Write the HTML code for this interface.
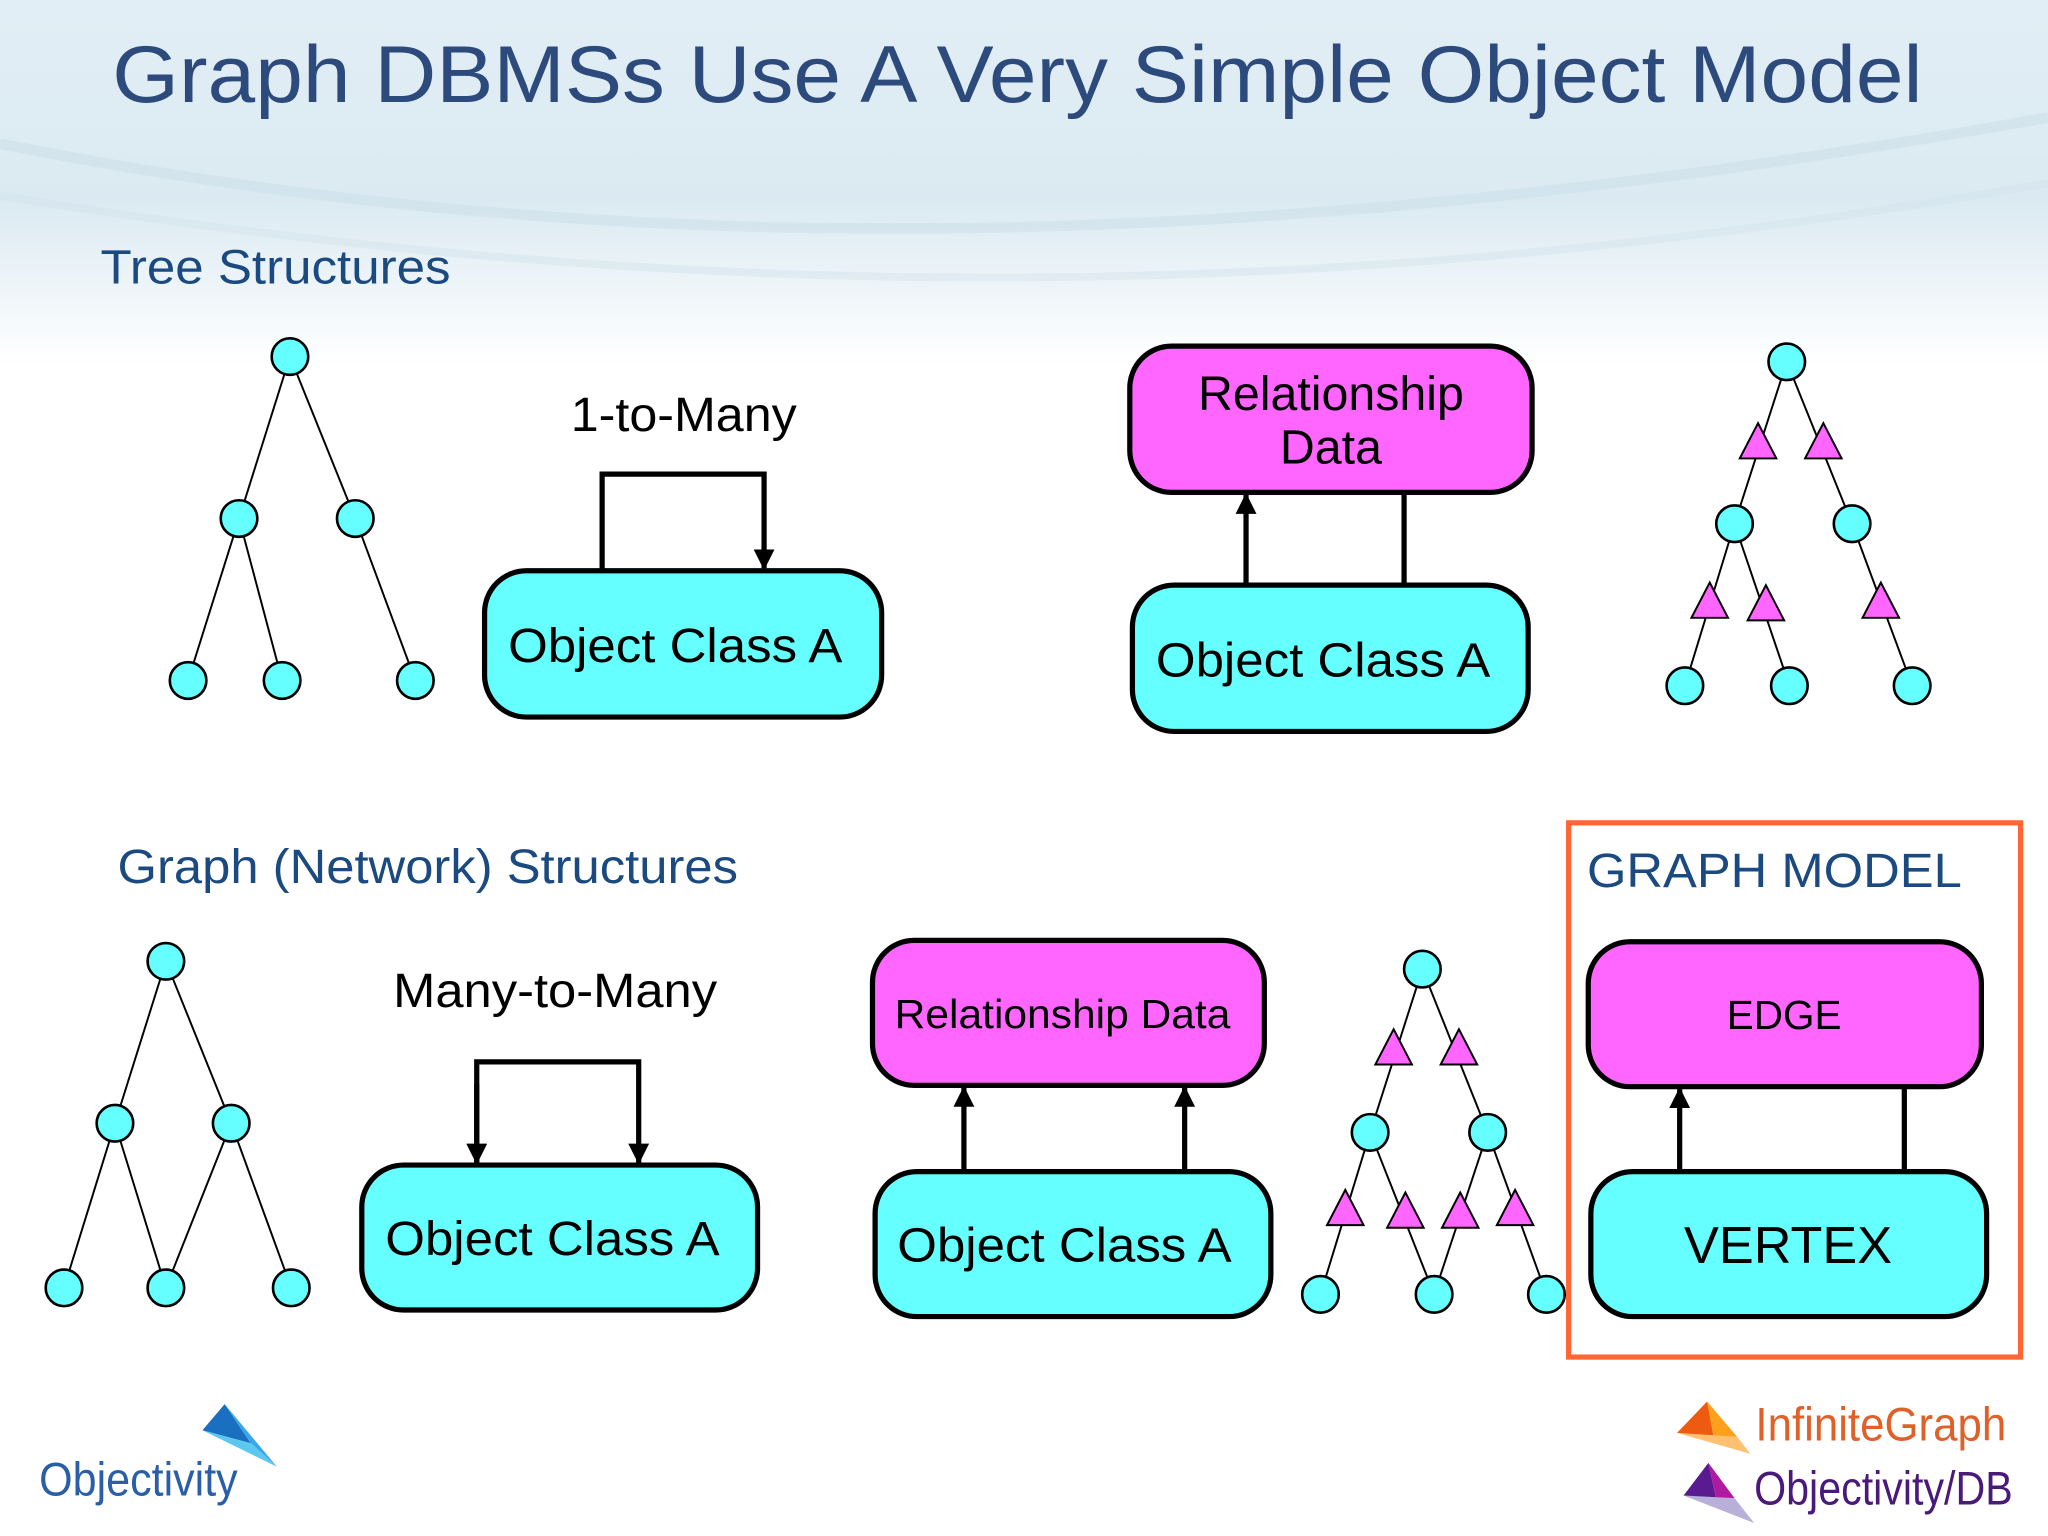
<!DOCTYPE html>
<html><head><meta charset="utf-8"><style>
html,body{margin:0;padding:0;background:#fff;}
svg{display:block;}
text{font-family:"Liberation Sans",sans-serif;}
</style></head><body>
<svg width="2048" height="1536" viewBox="0 0 1568 1176" xmlns="http://www.w3.org/2000/svg">
<defs>
<linearGradient id="bg" x1="0" y1="0" x2="0" y2="1">
<stop offset="0" stop-color="#e2eef5"/><stop offset="0.55" stop-color="#dbeaf2"/><stop offset="1" stop-color="#ffffff"/>
</linearGradient>
<marker id="ar" viewBox="0 0 10 10" refX="9" refY="5" markerWidth="4" markerHeight="4" orient="auto"><path d="M0,0 L10,5 L0,10 z" fill="#000"/></marker>
</defs>
<rect x="0" y="0" width="1568" height="280" fill="url(#bg)"/>
<path d="M0,110 C400,190 900,210 1568,90" stroke="#cadde8" stroke-width="8" fill="none" opacity="0.5"/>
<path d="M0,150 C500,230 1000,240 1568,140" stroke="#d3e4ec" stroke-width="6" fill="none" opacity="0.5"/>
<text x="86" y="78" font-size="62" fill="#2c4a7c" textLength="1386" lengthAdjust="spacingAndGlyphs">Graph DBMSs Use A Very Simple Object Model</text>
<text x="77" y="217" font-size="37" fill="#1a4a80" textLength="268" lengthAdjust="spacingAndGlyphs">Tree Structures</text>
<text x="90" y="676" font-size="37" fill="#1a4a80" textLength="475" lengthAdjust="spacingAndGlyphs">Graph (Network) Structures</text>

<g stroke="#000" stroke-width="1.5">
<line x1="222" y1="273" x2="183" y2="397"/><line x1="222" y1="273" x2="272" y2="397"/>
<line x1="183" y1="397" x2="144" y2="521"/><line x1="183" y1="397" x2="216" y2="521"/>
<line x1="272" y1="397" x2="318" y2="521"/>
</g>
<g fill="#66ffff" stroke="#000" stroke-width="2">
<circle cx="222" cy="273" r="14"/><circle cx="183" cy="397" r="14"/><circle cx="272" cy="397" r="14"/>
<circle cx="144" cy="521" r="14"/><circle cx="216" cy="521" r="14"/><circle cx="318" cy="521" r="14"/>
</g>

<text x="437" y="330" font-size="37" textLength="173" lengthAdjust="spacingAndGlyphs">1-to-Many</text>
<path d="M461,437 V363 H585 V435" stroke="#000" stroke-width="4" fill="none" marker-end="url(#ar)"/>
<rect x="371" y="437" width="304" height="112" rx="32" fill="#66ffff" stroke="#000" stroke-width="4"/>
<text x="389" y="507" font-size="37" textLength="256" lengthAdjust="spacingAndGlyphs">Object Class A</text>

<rect x="865" y="265" width="308" height="112" rx="32" fill="#ff66ff" stroke="#000" stroke-width="4"/>
<text x="1019" y="314" font-size="37" text-anchor="middle">Relationship</text>
<text x="1019" y="355" font-size="37" text-anchor="middle">Data</text>
<line x1="954" y1="448" x2="954" y2="379" stroke="#000" stroke-width="4" marker-end="url(#ar)"/>
<line x1="1075" y1="448" x2="1075" y2="377" stroke="#000" stroke-width="4"/>
<rect x="867" y="448" width="303" height="112" rx="32" fill="#66ffff" stroke="#000" stroke-width="4"/>
<text x="885" y="518" font-size="37" textLength="256" lengthAdjust="spacingAndGlyphs">Object Class A</text>

<g stroke="#000" stroke-width="1.5">
<line x1="1368" y1="277" x2="1328" y2="401"/><line x1="1368" y1="277" x2="1418" y2="401"/>
<line x1="1328" y1="401" x2="1290" y2="525"/><line x1="1328" y1="401" x2="1370" y2="525"/>
<line x1="1418" y1="401" x2="1464" y2="525"/>
</g>
<g fill="#ff66ff" stroke="#000" stroke-width="1.5">
<polygon points="1346,324 1332,351 1360,351"/><polygon points="1396,324 1382,351 1410,351"/>
<polygon points="1309,446 1295,473 1323,473"/><polygon points="1352,448 1338,475 1366,475"/>
<polygon points="1440,446 1426,473 1454,473"/>
</g>
<g fill="#66ffff" stroke="#000" stroke-width="2">
<circle cx="1368" cy="277" r="14"/><circle cx="1328" cy="401" r="14"/><circle cx="1418" cy="401" r="14"/>
<circle cx="1290" cy="525" r="14"/><circle cx="1370" cy="525" r="14"/><circle cx="1464" cy="525" r="14"/>
</g>

<g stroke="#000" stroke-width="1.5">
<line x1="127" y1="736" x2="88" y2="860"/><line x1="127" y1="736" x2="177" y2="860"/>
<line x1="88" y1="860" x2="49" y2="986"/><line x1="88" y1="860" x2="127" y2="986"/>
<line x1="177" y1="860" x2="127" y2="986"/><line x1="177" y1="860" x2="223" y2="986"/>
</g>
<g fill="#66ffff" stroke="#000" stroke-width="2">
<circle cx="127" cy="736" r="14"/><circle cx="88" cy="860" r="14"/><circle cx="177" cy="860" r="14"/>
<circle cx="49" cy="986" r="14"/><circle cx="127" cy="986" r="14"/><circle cx="223" cy="986" r="14"/>
</g>

<text x="301" y="771" font-size="37" textLength="248" lengthAdjust="spacingAndGlyphs">Many-to-Many</text>
<path d="M365,890 V813 H489 V890" stroke="#000" stroke-width="4" fill="none" marker-end="url(#ar)"/>
<line x1="365" y1="830" x2="365" y2="890" stroke="#000" stroke-width="4" marker-end="url(#ar)"/>
<rect x="277" y="892" width="303" height="111" rx="32" fill="#66ffff" stroke="#000" stroke-width="4"/>
<text x="295" y="961" font-size="37" textLength="256" lengthAdjust="spacingAndGlyphs">Object Class A</text>

<rect x="668" y="720" width="300" height="111" rx="32" fill="#ff66ff" stroke="#000" stroke-width="4"/>
<text x="685" y="787" font-size="31" textLength="257" lengthAdjust="spacingAndGlyphs">Relationship Data</text>
<line x1="738" y1="897" x2="738" y2="833" stroke="#000" stroke-width="4" marker-end="url(#ar)"/>
<line x1="907" y1="897" x2="907" y2="833" stroke="#000" stroke-width="4" marker-end="url(#ar)"/>
<rect x="670" y="897" width="303" height="111" rx="32" fill="#66ffff" stroke="#000" stroke-width="4"/>
<text x="687" y="966" font-size="37" textLength="256" lengthAdjust="spacingAndGlyphs">Object Class A</text>

<g stroke="#000" stroke-width="1.5">
<line x1="1089" y1="742" x2="1049" y2="867"/><line x1="1089" y1="742" x2="1139" y2="867"/>
<line x1="1049" y1="867" x2="1011" y2="991"/><line x1="1049" y1="867" x2="1098" y2="991"/>
<line x1="1139" y1="867" x2="1098" y2="991"/><line x1="1139" y1="867" x2="1184" y2="991"/>
</g>
<g fill="#ff66ff" stroke="#000" stroke-width="1.5">
<polygon points="1067,788 1053,815 1081,815"/><polygon points="1117,788 1103,815 1131,815"/>
<polygon points="1030,911 1016,938 1044,938"/><polygon points="1076,913 1062,940 1090,940"/>
<polygon points="1118,913 1104,940 1132,940"/><polygon points="1160,911 1146,938 1174,938"/>
</g>
<g fill="#66ffff" stroke="#000" stroke-width="2">
<circle cx="1089" cy="742" r="14"/><circle cx="1049" cy="867" r="14"/><circle cx="1139" cy="867" r="14"/>
<circle cx="1011" cy="991" r="14"/><circle cx="1098" cy="991" r="14"/><circle cx="1184" cy="991" r="14"/>
</g>

<rect x="1201" y="630" width="346" height="409" fill="none" stroke="#ff6633" stroke-width="4"/>
<text x="1215" y="679" font-size="37" fill="#1a4a80" textLength="287" lengthAdjust="spacingAndGlyphs">GRAPH MODEL</text>
<rect x="1216" y="721" width="301" height="111" rx="32" fill="#ff66ff" stroke="#000" stroke-width="4"/>
<text x="1366" y="788" font-size="31" text-anchor="middle">EDGE</text>
<line x1="1286" y1="897" x2="1286" y2="834" stroke="#000" stroke-width="4" marker-end="url(#ar)"/>
<line x1="1458" y1="897" x2="1458" y2="832" stroke="#000" stroke-width="4"/>
<rect x="1218" y="897" width="303" height="111" rx="32" fill="#66ffff" stroke="#000" stroke-width="4"/>
<text x="1369" y="967" font-size="40" text-anchor="middle">VERTEX</text>

<polygon points="172,1075 155,1095 192,1105" fill="#1a6fc0"/>
<polygon points="172,1075 192,1105 212,1123" fill="#3aa8e8"/>
<polygon points="155,1095 212,1123 192,1105" fill="#5cc8f0"/>
<text x="30" y="1145" font-size="36" fill="#2a5fa8" textLength="152" lengthAdjust="spacingAndGlyphs">Objectivity</text>

<polygon points="1307,1073 1284,1097 1312,1100" fill="#ee5a10"/>
<polygon points="1307,1073 1312,1100 1330,1100" fill="#ffa01a"/>
<polygon points="1284,1097 1340,1113 1330,1100" fill="#ffc070"/>
<text x="1344" y="1103" font-size="36" fill="#e0602a" textLength="192" lengthAdjust="spacingAndGlyphs">InfiniteGraph</text>
<polygon points="1308,1120 1289,1145 1314,1148" fill="#5a1a90"/>
<polygon points="1308,1120 1314,1148 1328,1147" fill="#b01aa0"/>
<polygon points="1289,1145 1343,1166 1328,1147" fill="#b8b0d8"/>
<text x="1343" y="1152" font-size="36" fill="#4a1a7a" textLength="198" lengthAdjust="spacingAndGlyphs">Objectivity/DB</text>
</svg>
</body></html>
